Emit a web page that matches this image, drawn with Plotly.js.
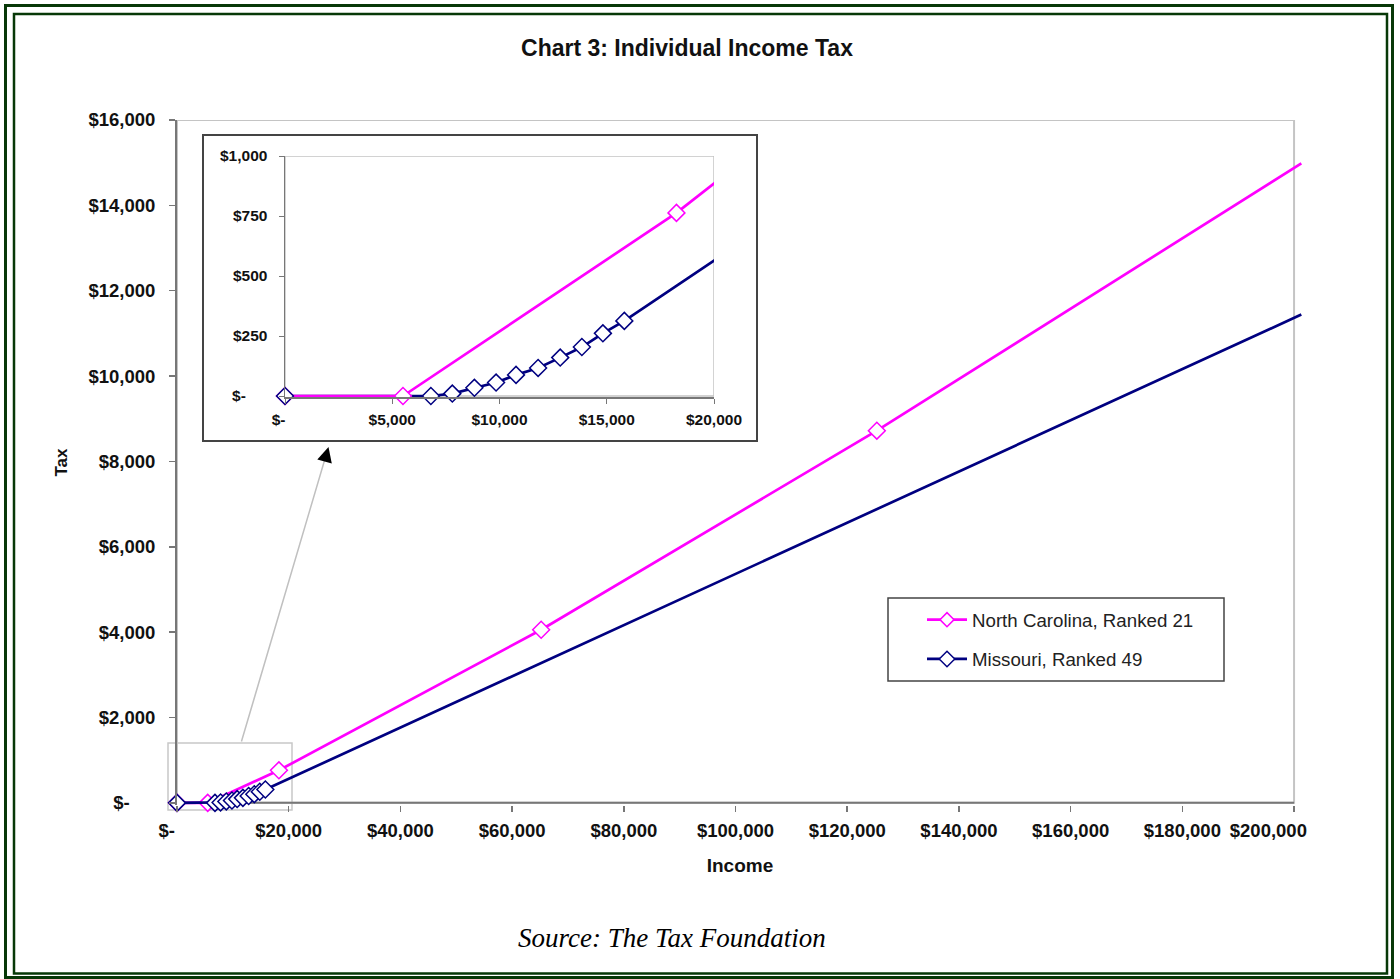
<!DOCTYPE html>
<html><head><meta charset="utf-8">
<script src="https://cdn.plot.ly/plotly-3.0.1.min.js"></script>
<style>html,body{margin:0;padding:0;background:#fff;}#chart{width:1400px;height:979px;}</style>
</head><body><div id="chart"></div>
<script>
// ---- data ----
const seriesNames = ['North Carolina, Ranked 21', 'Missouri, Ranked 49'];
const ncIncome = [0, 5500, 18250, 65200, 125300, 201300];
const ncTax    = [0, 0, 763, 4056, 8720, 14982];
const moIncome = [0, 6800, 7800, 8830, 9840, 10770, 11800, 12830, 13840, 14820, 15820, 201300];
const moTax    = [0, 0, 10, 34, 56, 88, 117, 160, 204, 261, 313, 11442];
const mainXTicks = [0, 20000, 40000, 60000, 80000, 100000, 120000, 140000, 160000, 180000, 200000];
const mainYTicks = [0, 2000, 4000, 6000, 8000, 10000, 12000, 14000, 16000];
const insetXTicks = [0, 5000, 10000, 15000, 20000];
const insetYTicks = [0, 250, 500, 750, 1000];
const titleText = 'Chart 3: Individual Income Tax';
const xTitle = 'Income';
const yTitle = 'Tax';
const sourceText = 'Source: The Tax Foundation';

// ---- styling / layout ----
const W = 1400, H = 979;
const M = {l: 177, r: 97, t: 120, b: 174};
const PW = W - M.l - M.r, PH = H - M.t - M.b;
const px = x => (x - M.l) / PW;
const py = y => (H - M.b - y) / PH;
const NBSP = '\u00a0';
function money(v, pad) { return v === 0 ? '$-' + NBSP.repeat(pad) : '$' + v.toLocaleString('en-US'); }

const MAG = '#FF00FF', NAVY = '#000080';
const FONT = 'Liberation Sans, Arial, sans-serif';
const mainMax = 200000, insetMax = 20000;
const sizeFor = (xs, lim, s) => xs.map(v => v <= lim ? s : 0);
// last main x label is pulled left to stay inside the chart, as in the reference
const mainXText = mainXTicks.map(v => v === mainMax ? money(v, 0) + NBSP.repeat(10) : money(v, 4));

function mk(color, sizes) {
  return {symbol: 'diamond', size: sizes, color: '#ffffff', opacity: 1, line: {color: color, width: 1.5}};
}

const traces = [
  {x: ncIncome, y: ncTax, name: seriesNames[0], mode: 'lines+markers', legendgroup: 'nc',
   line: {color: MAG, width: 2.7}, marker: mk(MAG, sizeFor(ncIncome, mainMax, 13)), cliponaxis: false},
  {x: moIncome, y: moTax, name: seriesNames[1], mode: 'lines+markers', legendgroup: 'mo',
   line: {color: NAVY, width: 2.7}, marker: mk(NAVY, sizeFor(moIncome, mainMax, 13)), cliponaxis: false},
  // inset
  {x: moIncome, y: moTax, xaxis: 'x2', yaxis: 'y2', mode: 'lines', showlegend: false,
   line: {color: NAVY, width: 2.7}},
  {x: ncIncome, y: ncTax, xaxis: 'x2', yaxis: 'y2', mode: 'lines+markers', showlegend: false,
   line: {color: MAG, width: 2.7}, marker: mk(MAG, sizeFor(ncIncome, insetMax, 13)), cliponaxis: false},
  {x: moIncome, y: moTax, xaxis: 'x2', yaxis: 'y2', mode: 'markers', showlegend: false,
   marker: mk(NAVY, sizeFor(moIncome, insetMax, 13)), cliponaxis: false}
];

const tickFont = {family: FONT, size: 18.5, color: '#111', weight: 'bold'};
const insetTickFont = {family: FONT, size: 15.5, color: '#111', weight: 'bold'};

const layout = {
  width: W, height: H, margin: M, paper_bgcolor: 'white', plot_bgcolor: 'rgba(0,0,0,0)',
  showlegend: true,
  title: {text: titleText, font: {family: FONT, size: 23, color: '#111', weight: 'bold'},
          xref: 'container', yref: 'container', x: 687 / W, y: 1 - 48 / H, xanchor: 'center', yanchor: 'middle'},
  xaxis: {range: [0, 201600], showgrid: false, zeroline: false, showline: false,
          tickvals: mainXTicks, ticktext: mainXText,
          ticks: 'outside', ticklen: 6, tickwidth: 1.5, tickcolor: '#777', tickfont: tickFont,
          ticklabelstandoff: 3,
          title: {text: xTitle, font: {family: FONT, size: 19, color: '#111', weight: 'bold'}, standoff: 18}},
  yaxis: {range: [-50, 16000], showgrid: false, zeroline: false, showline: true, linecolor: '#777', linewidth: 2,
          tickvals: mainYTicks, ticktext: mainYTicks.map(v => money(v, 5)),
          ticks: 'outside', ticklen: 6, tickwidth: 1.5, tickcolor: '#777', tickfont: tickFont,
          ticklabelstandoff: 10,
          title: {text: yTitle, font: {family: FONT, size: 17, color: '#111', weight: 'bold'}, standoff: 16}},
  xaxis2: {domain: [px(285), px(714)], anchor: 'y2', range: [0, insetMax], showgrid: false, zeroline: false,
           showline: true, linecolor: '#777', linewidth: 1.5,
           tickvals: insetXTicks, ticktext: insetXTicks.map(v => money(v, 3)),
           ticks: 'outside', ticklen: 5, tickcolor: '#777', tickfont: insetTickFont, ticklabelstandoff: 3},
  yaxis2: {domain: [py(397.2), py(156)], anchor: 'x2', range: [-5, 1000], showgrid: false, zeroline: false,
           showline: true, linecolor: '#777', linewidth: 1.5,
           tickvals: insetYTicks, ticktext: insetYTicks.map(v => money(v, 5)),
           ticks: 'outside', ticklen: 5, tickcolor: '#777', tickfont: insetTickFont, ticklabelstandoff: 8},
  legend: {x: px(922), y: py(601), xanchor: 'left', yanchor: 'top', bgcolor: 'rgba(0,0,0,0)', borderwidth: 0,
           font: {family: FONT, size: 18.7, color: '#222'}, traceorder: 'grouped', tracegroupgap: 12, itemwidth: 40},
  shapes: [
    // page double frame
    {type: 'rect', xref: 'paper', yref: 'paper', x0: px(5.5), x1: px(1392.5), y0: py(5.5), y1: py(977.5),
     line: {color: '#073807', width: 3}, layer: 'below'},
    {type: 'rect', xref: 'paper', yref: 'paper', x0: px(14), x1: px(1387), y0: py(14), y1: py(973.5),
     line: {color: '#073807', width: 2.5}, layer: 'below'},
    // main plot border + x axis line
    {type: 'rect', xref: 'x', yref: 'y', x0: 0, x1: mainMax, y0: 0, y1: 16000, line: {color: '#c4c4c4', width: 2}, layer: 'below'},
    {type: 'line', xref: 'x', yref: 'y', x0: 0, x1: mainMax, y0: 0, y1: 0, line: {color: '#777', width: 2}, layer: 'below'},
    // inset border
    {type: 'rect', xref: 'x2', yref: 'y2', x0: 0, x1: insetMax, y0: 0, y1: 1000, line: {color: '#c4c4c4', width: 1.5}, layer: 'below'},
    // inset frame
    {type: 'rect', xref: 'paper', yref: 'paper', x0: px(203), x1: px(757), y0: py(135), y1: py(441),
     line: {color: '#444', width: 2}, layer: 'below'},
    // zoom box
    {type: 'rect', xref: 'paper', yref: 'paper', x0: px(168), x1: px(292), y0: py(743), y1: py(810),
     line: {color: '#c8c8c8', width: 1.5}, layer: 'below'},
    // legend box
    {type: 'rect', xref: 'paper', yref: 'paper', x0: px(888), x1: px(1224), y0: py(598), y1: py(681),
     line: {color: '#444', width: 1.5}, layer: 'below'}
  ],
  annotations: [
    {xref: 'paper', yref: 'paper', x: px(327), y: py(452), ax: 241 - 327, ay: 743 - 452, axref: 'pixel', ayref: 'pixel',
     text: '', showarrow: true, arrowhead: 0, arrowwidth: 1.5, arrowcolor: '#c0c0c0'},
    {xref: 'paper', yref: 'paper', x: px(328.5), y: py(447), ax: -3, ay: 11,
     text: '', showarrow: true, arrowhead: 2, arrowsize: 2, arrowwidth: 1.5, arrowcolor: '#000'},
    {xref: 'paper', yref: 'paper', x: px(672), y: py(938), xanchor: 'center', yanchor: 'middle', showarrow: false,
     text: sourceText, font: {family: 'Liberation Serif, Times New Roman, serif', size: 27, style: 'italic', color: '#000'}}
  ]
};

Plotly.newPlot('chart', traces, layout, {displayModeBar: false, staticPlot: true});
</script></body></html>
